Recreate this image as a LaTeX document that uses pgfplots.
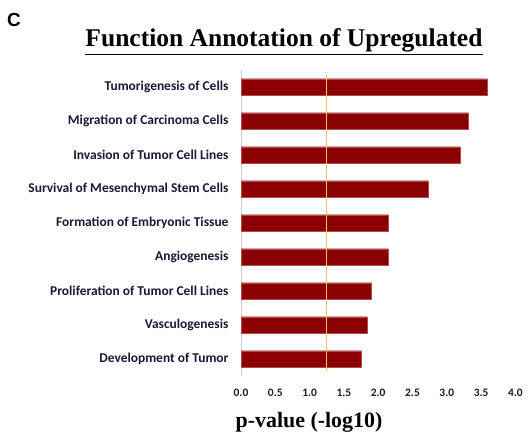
\documentclass[border=0pt]{standalone}
\usepackage{pgfplots}
\pgfplotsset{compat=1.18}
\usepackage{fontspec}
\setmainfont{Liberation Serif}
\newfontfamily\calibri{Carlito}
\newfontfamily\arial{Liberation Sans}
\definecolor{barred}{RGB}{139,0,0}
\definecolor{threshyellow}{RGB}{245,195,80}
\definecolor{lbl}{RGB}{25,25,55}
\begin{document}
\begin{tikzpicture}[x=1bp,y=1bp]
\useasboundingbox (0,0) rectangle (532,440);
\node[font=\arial\bfseries\fontsize{19}{19}\selectfont, anchor=center] at (14,420) {C};
\node[font=\bfseries\fontsize{25.6}{26}\selectfont, anchor=base] at (284,393) {\underline{Function Annotation of Upregulated}};
\begin{axis}[
  at={(241bp,64bp)}, anchor=south west,
  scale only axis, width=274.4bp, height=306bp,
  xmin=0, xmax=4, ymin=-0.5, ymax=8.5,
  xtick={0,0.5,...,4},
  /pgf/number format/assume math mode=true,
  ytick={0,...,8},
  yticklabels={Development of Tumor,Vasculogenesis,Proliferation of Tumor Cell Lines,Angiogenesis,Formation of Embryonic Tissue,Survival of Mesenchymal Stem Cells,Invasion of Tumor Cell Lines,Migration of Carcinoma Cells,Tumorigenesis of Cells},
  tick style={draw=none},
  yticklabel style={font=\calibri\bfseries\fontsize{13.5}{14}\selectfont, text=lbl, xshift=-9bp},
  xticklabel style={font=\calibri\bfseries\fontsize{11.5}{12}\selectfont, text=lbl, yshift=-9.5bp,
    /pgf/number format/fixed,/pgf/number format/fixed zerofill,/pgf/number format/precision=1},
  axis x line*=bottom,
  x axis line style={draw=none},
  axis y line*=left,
  y axis line style={draw=black!20, line width=0.8pt, -},
  clip=false,
]
\addplot[xbar, bar width=16.5bp, fill=barred, draw=barred!70!white, line width=0.4pt] coordinates {
(1.75,0) (1.84,1) (1.90,2) (2.15,3) (2.15,4) (2.73,5) (3.19,6) (3.31,7) (3.59,8)};
\addplot[draw=threshyellow, line width=1.2pt, mark=none] coordinates {(1.25,-0.35) (1.25,8.35)};
\end{axis}
\node[font=\bfseries\fontsize{22}{22}\selectfont, anchor=base] at (309,12) {p-value (-log10)};
\end{tikzpicture}
\end{document}
